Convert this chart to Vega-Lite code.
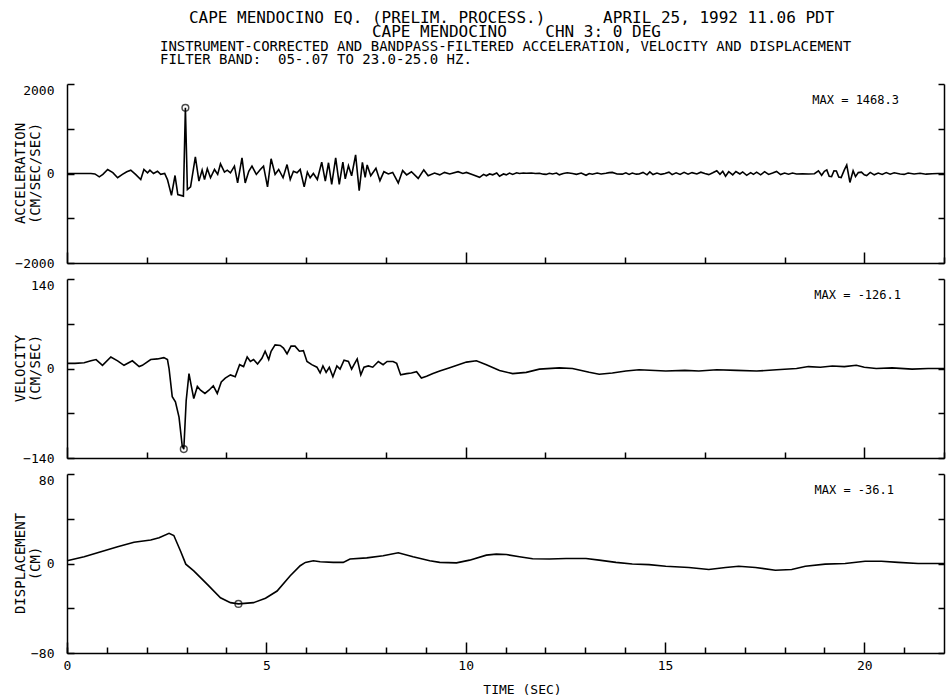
{
  "$schema": "https://vega.github.io/schema/vega-lite/v6.json",
  "padding": {"left": 13, "top": 10, "right": 1, "bottom": 2},
  "bounds": "flush",
  "spacing": 16,
  "title": {
    "text": ["\u200b\u00a0\u00a0\u00a0CAPE MENDOCINO EQ. (PRELIM. PROCESS.)\u00a0\u00a0\u00a0\u00a0\u00a0\u00a0APRIL 25, 1992 11.06 PDT", "\u200b\u00a0\u00a0\u00a0\u00a0\u00a0\u00a0\u00a0\u00a0\u00a0\u00a0\u00a0\u00a0\u00a0\u00a0\u00a0\u00a0\u00a0\u00a0\u00a0\u00a0\u00a0\u00a0CAPE MENDOCINO\u00a0\u00a0\u00a0\u00a0CHN 3: 0 DEG"],
    "subtitle": ["INSTRUMENT-CORRECTED AND BANDPASS-FILTERED ACCELERATION, VELOCITY AND DISPLACEMENT", "FILTER BAND:\u00a0\u00a005-.07 TO 23.0-25.0 HZ."],
    "anchor": "start",
    "dx": 147,
    "font": "DejaVu Sans Mono",
    "fontSize": 16,
    "fontWeight": "normal",
    "color": "black",
    "lineHeight": 14,
    "subtitleFont": "DejaVu Sans Mono",
    "subtitleFontSize": 14,
    "subtitleColor": "black",
    "subtitleLineHeight": 13,
    "subtitlePadding": 0,
    "offset": 16
  },
  "config": {
    "view": {"stroke": null},
    "font": "DejaVu Sans Mono",
    "axis": {
      "grid": false,
      "domainColor": "black",
      "domainWidth": 1.5,
      "tickColor": "black",
      "tickWidth": 1.5,
      "labelColor": "black",
      "labelFont": "DejaVu Sans Mono",
      "labelFontSize": 13,
      "labelFlush": false,
      "labelOverlap": false,
      "titleFont": "DejaVu Sans Mono",
      "titleFontSize": 14,
      "titleFontWeight": "normal",
      "titleColor": "black"
    },
    "title": {"font": "DejaVu Sans Mono", "fontSize": 12, "fontWeight": "normal", "color": "black"}
  },
  "datasets": {
    "acc": [
      {"t":0,"a":0},{"t":0.6,"a":0},{"t":0.7,"a":-10},{"t":0.81,"a":-75},{"t":0.9,"a":-20},{"t":1.02,"a":90},{"t":1.15,"a":20},{"t":1.27,"a":-95},{"t":1.39,"a":-20},{"t":1.5,"a":40},{"t":1.6,"a":75},{"t":1.72,"a":-20},{"t":1.85,"a":-135},{"t":1.93,"a":90},{"t":2.02,"a":15},{"t":2.08,"a":75},{"t":2.17,"a":0},{"t":2.27,"a":50},{"t":2.35,"a":-20},{"t":2.45,"a":0},{"t":2.52,"a":-135},{"t":2.62,"a":-490},{"t":2.71,"a":-45},{"t":2.78,"a":-470},{"t":2.92,"a":-505},{"t":2.97,"a":1468},{"t":3.02,"a":-360},{"t":3.1,"a":-300},{"t":3.22,"a":370},{"t":3.31,"a":-170},{"t":3.39,"a":75},{"t":3.45,"a":-135},{"t":3.52,"a":105},{"t":3.6,"a":-95},{"t":3.7,"a":90},{"t":3.78,"a":-20},{"t":3.85,"a":215},{"t":3.95,"a":30},{"t":4.02,"a":75},{"t":4.1,"a":15},{"t":4.2,"a":165},{"t":4.28,"a":-210},{"t":4.39,"a":350},{"t":4.47,"a":-210},{"t":4.56,"a":50},{"t":4.64,"a":165},{"t":4.75,"a":-20},{"t":4.85,"a":90},{"t":4.93,"a":165},{"t":5.03,"a":-300},{"t":5.12,"a":330},{"t":5.22,"a":-20},{"t":5.31,"a":90},{"t":5.42,"a":-95},{"t":5.52,"a":200},{"t":5.6,"a":-135},{"t":5.68,"a":50},{"t":5.77,"a":15},{"t":5.85,"a":90},{"t":5.95,"a":-300},{"t":6.03,"a":30},{"t":6.1,"a":-95},{"t":6.18,"a":0},{"t":6.28,"a":-135},{"t":6.39,"a":255},{"t":6.48,"a":-170},{"t":6.56,"a":240},{"t":6.64,"a":-245},{"t":6.74,"a":350},{"t":6.83,"a":-245},{"t":6.92,"a":255},{"t":6.98,"a":-120},{"t":7.06,"a":175},{"t":7.14,"a":-50},{"t":7.24,"a":415},{"t":7.33,"a":-385},{"t":7.41,"a":250},{"t":7.48,"a":-85},{"t":7.53,"a":190},{"t":7.62,"a":-50},{"t":7.75,"a":115},{"t":7.85,"a":-160},{"t":7.95,"a":40},{"t":8.06,"a":-10},{"t":8.17,"a":25},{"t":8.31,"a":-210},{"t":8.42,"a":65},{"t":8.52,"a":-30},{"t":8.64,"a":40},{"t":8.81,"a":-110},{"t":8.95,"a":80},{"t":9.06,"a":-50},{"t":9.22,"a":10},{"t":9.35,"a":-30},{"t":9.47,"a":25},{"t":9.6,"a":-10},{"t":9.81,"a":40},{"t":9.93,"a":0},{"t":10.02,"a":25},{"t":10.18,"a":-30},{"t":10.35,"a":-85},{"t":10.45,"a":-20},{"t":10.52,"a":-50},{"t":10.6,"a":-10},{"t":10.68,"a":-30},{"t":10.78,"a":10},{"t":10.85,"a":-60},{"t":10.95,"a":-10},{"t":11.02,"a":-30},{"t":11.1,"a":10},{"t":11.18,"a":-20},{"t":11.28,"a":15},{"t":11.35,"a":0},{"t":11.45,"a":10},{"t":11.52,"a":5},{"t":11.65,"a":10},{"t":11.75,"a":0},{"t":11.85,"a":5},{"t":11.95,"a":-15},{"t":12.02,"a":-20},{"t":12.1,"a":5},{"t":12.18,"a":-10},{"t":12.28,"a":10},{"t":12.35,"a":-30},{"t":12.45,"a":0},{"t":12.55,"a":15},{"t":12.68,"a":0},{"t":12.78,"a":-20},{"t":12.9,"a":10},{"t":13.02,"a":-40},{"t":13.1,"a":0},{"t":13.18,"a":-15},{"t":13.3,"a":10},{"t":13.4,"a":-10},{"t":13.52,"a":5},{"t":13.6,"a":20},{"t":13.68,"a":25},{"t":13.8,"a":-10},{"t":13.93,"a":-15},{"t":14.02,"a":15},{"t":14.1,"a":-20},{"t":14.18,"a":10},{"t":14.28,"a":-15},{"t":14.35,"a":-10},{"t":14.45,"a":25},{"t":14.55,"a":-30},{"t":14.62,"a":35},{"t":14.7,"a":-25},{"t":14.8,"a":10},{"t":14.9,"a":-20},{"t":15.0,"a":0},{"t":15.1,"a":30},{"t":15.18,"a":-25},{"t":15.28,"a":15},{"t":15.38,"a":-20},{"t":15.48,"a":25},{"t":15.58,"a":-15},{"t":15.68,"a":20},{"t":15.8,"a":-10},{"t":15.9,"a":30},{"t":16.0,"a":0},{"t":16.1,"a":-25},{"t":16.2,"a":15},{"t":16.3,"a":60},{"t":16.38,"a":-20},{"t":16.45,"a":50},{"t":16.52,"a":-60},{"t":16.6,"a":40},{"t":16.7,"a":-30},{"t":16.78,"a":45},{"t":16.88,"a":-10},{"t":16.95,"a":35},{"t":17.05,"a":-40},{"t":17.15,"a":20},{"t":17.22,"a":-20},{"t":17.3,"a":30},{"t":17.4,"a":-30},{"t":17.5,"a":40},{"t":17.6,"a":-20},{"t":17.7,"a":10},{"t":17.8,"a":45},{"t":17.9,"a":-25},{"t":18.0,"a":10},{"t":18.1,"a":-15},{"t":18.2,"a":10},{"t":18.3,"a":-10},{"t":18.45,"a":-5},{"t":18.6,"a":-10},{"t":18.75,"a":-5},{"t":18.85,"a":60},{"t":18.93,"a":-40},{"t":19.0,"a":50},{"t":19.06,"a":80},{"t":19.12,"a":-60},{"t":19.18,"a":-70},{"t":19.24,"a":60},{"t":19.3,"a":55},{"t":19.36,"a":-80},{"t":19.42,"a":-90},{"t":19.5,"a":80},{"t":19.56,"a":190},{"t":19.64,"a":-200},{"t":19.72,"a":60},{"t":19.78,"a":-70},{"t":19.85,"a":20},{"t":19.93,"a":30},{"t":20.0,"a":-30},{"t":20.06,"a":-45},{"t":20.15,"a":25},{"t":20.25,"a":-30},{"t":20.35,"a":10},{"t":20.45,"a":-20},{"t":20.55,"a":20},{"t":20.65,"a":-15},{"t":20.75,"a":15},{"t":20.9,"a":-10},{"t":21.0,"a":-20},{"t":21.1,"a":10},{"t":21.25,"a":-10},{"t":21.4,"a":5},{"t":21.55,"a":-15},{"t":21.7,"a":-5},{"t":21.85,"a":0},{"t":22,"a":0}
    ],
    "vel": [
      {"t":0,"v":8},{"t":0.2,"v":8},{"t":0.43,"v":9},{"t":0.6,"v":12},{"t":0.73,"v":14},{"t":0.89,"v":5},{"t":1.1,"v":18},{"t":1.27,"v":12},{"t":1.43,"v":5},{"t":1.64,"v":12},{"t":1.81,"v":3},{"t":1.89,"v":5},{"t":2.1,"v":14},{"t":2.27,"v":15},{"t":2.43,"v":17},{"t":2.52,"v":14},{"t":2.56,"v":0},{"t":2.64,"v":-44},{"t":2.72,"v":-52},{"t":2.81,"v":-76},{"t":2.89,"v":-121},{"t":2.93,"v":-126.1},{"t":2.99,"v":-50},{"t":3.06,"v":-8},{"t":3.12,"v":-28},{"t":3.18,"v":-47},{"t":3.27,"v":-28},{"t":3.35,"v":-34},{"t":3.46,"v":-39},{"t":3.56,"v":-34},{"t":3.67,"v":-27},{"t":3.77,"v":-39},{"t":3.87,"v":-21},{"t":3.97,"v":-15},{"t":4.1,"v":-10},{"t":4.22,"v":-13},{"t":4.33,"v":6},{"t":4.43,"v":3},{"t":4.52,"v":18},{"t":4.6,"v":11},{"t":4.68,"v":14},{"t":4.78,"v":7},{"t":4.89,"v":16},{"t":4.97,"v":27},{"t":5.06,"v":14},{"t":5.12,"v":27},{"t":5.22,"v":37},{"t":5.35,"v":36},{"t":5.43,"v":32},{"t":5.52,"v":23},{"t":5.62,"v":35},{"t":5.72,"v":35},{"t":5.83,"v":27},{"t":5.93,"v":28},{"t":6.02,"v":11},{"t":6.14,"v":6},{"t":6.27,"v":2},{"t":6.35,"v":-7},{"t":6.42,"v":4},{"t":6.5,"v":-6},{"t":6.58,"v":2},{"t":6.67,"v":-13},{"t":6.77,"v":4},{"t":6.85,"v":-1},{"t":6.95,"v":13},{"t":7.06,"v":11},{"t":7.14,"v":-1},{"t":7.2,"v":6},{"t":7.28,"v":15},{"t":7.37,"v":-10},{"t":7.45,"v":2},{"t":7.56,"v":4},{"t":7.67,"v":2},{"t":7.81,"v":11},{"t":7.93,"v":6},{"t":8.03,"v":11},{"t":8.18,"v":11},{"t":8.27,"v":8},{"t":8.37,"v":-10},{"t":8.52,"v":-8},{"t":8.64,"v":-7},{"t":8.77,"v":-5},{"t":8.89,"v":-15},{"t":9.02,"v":-12},{"t":9.18,"v":-8},{"t":9.35,"v":-4},{"t":9.6,"v":1},{"t":10.02,"v":10},{"t":10.27,"v":12},{"t":10.52,"v":6},{"t":10.85,"v":-3},{"t":11.18,"v":-8},{"t":11.52,"v":-6},{"t":11.85,"v":-1},{"t":12.35,"v":1},{"t":12.68,"v":0},{"t":13.1,"v":-6},{"t":13.35,"v":-9},{"t":13.68,"v":-7},{"t":14.02,"v":-4},{"t":14.35,"v":-2},{"t":15.02,"v":-4},{"t":15.5,"v":-3},{"t":15.85,"v":-4},{"t":16.3,"v":-2},{"t":16.8,"v":-3},{"t":17.3,"v":-4},{"t":17.8,"v":-2},{"t":18.3,"v":0},{"t":18.6,"v":3},{"t":18.9,"v":2},{"t":19.2,"v":4},{"t":19.5,"v":3},{"t":19.8,"v":5},{"t":20.0,"v":2},{"t":20.3,"v":0},{"t":20.7,"v":1},{"t":21.2,"v":-1},{"t":21.6,"v":0},{"t":22,"v":0}
    ],
    "dis": [
      {"t":0,"d":2.4},{"t":0.43,"d":6},{"t":0.85,"d":10.5},{"t":1.27,"d":15},{"t":1.68,"d":19},{"t":2.1,"d":21},{"t":2.31,"d":23},{"t":2.56,"d":27},{"t":2.68,"d":25},{"t":2.85,"d":11},{"t":2.98,"d":-0.6},{"t":3.18,"d":-6.6},{"t":3.52,"d":-18.6},{"t":3.85,"d":-30.6},{"t":4.1,"d":-35},{"t":4.3,"d":-36.1},{"t":4.68,"d":-35},{"t":4.98,"d":-31},{"t":5.27,"d":-24.6},{"t":5.6,"d":-11},{"t":5.85,"d":-2},{"t":5.98,"d":1},{"t":6.18,"d":2.4},{"t":6.35,"d":1.5},{"t":6.68,"d":1},{"t":6.93,"d":1},{"t":7.1,"d":4},{"t":7.52,"d":5},{"t":7.93,"d":7},{"t":8.31,"d":9.6},{"t":8.68,"d":6},{"t":9.1,"d":2.4},{"t":9.35,"d":1},{"t":9.77,"d":0.6},{"t":10.1,"d":3},{"t":10.52,"d":7.5},{"t":10.77,"d":8.4},{"t":11.02,"d":8},{"t":11.35,"d":6},{"t":11.68,"d":4.2},{"t":12.1,"d":4},{"t":12.52,"d":4.5},{"t":13.02,"d":4.5},{"t":13.35,"d":3},{"t":13.77,"d":1},{"t":14.18,"d":-0.5},{"t":14.6,"d":-1},{"t":15.02,"d":-2.4},{"t":15.6,"d":-3.6},{"t":16.1,"d":-5.4},{"t":16.52,"d":-3.6},{"t":16.85,"d":-2.4},{"t":17.27,"d":-3.6},{"t":17.77,"d":-6},{"t":18.18,"d":-5.4},{"t":18.52,"d":-2.4},{"t":19.02,"d":-0.6},{"t":19.52,"d":0},{"t":20.02,"d":2},{"t":20.43,"d":2},{"t":20.85,"d":1},{"t":21.35,"d":0},{"t":22,"d":0}
    ],
    "accMax": [{"t":2.97,"a":1468.3}],
    "velMax": [{"t":2.93,"v":-126.1}],
    "disMax": [{"t":4.3,"d":-36.1}]
  },
  "vconcat": [
    {
      "width": 877,
      "height": 179,
      "title": {"text": "MAX = 1468.3", "anchor": "end", "frame": "group", "orient": "top", "baseline": "middle", "offset": -14, "dy": 15, "dx": -45},
      "resolve": {"axis": {"y": "independent"}},
      "layer": [
        {
          "data": {"name": "acc"},
          "mark": {"type": "line", "color": "black", "strokeWidth": 1.6},
          "encoding": {
            "x": {"field": "t", "type": "quantitative", "scale": {"domain": [0, 22], "nice": false, "zero": false},
              "axis": {"values": [0,1,2,3,4,5,6,7,8,9,10,11,12,13,14,15,16,17,18,19,20,21,22], "labels": false, "title": null,
                "tickSize": {"condition": {"test": "datum.value % 5 === 0", "value": -11}, "value": -6}}},
            "y": {"field": "a", "type": "quantitative", "scale": {"domain": [-2000, 2000], "nice": false},
              "axis": {"orient": "left", "values": [-2000,-1000,0,1000,2000], "tickSize": -7, "labelPadding": 20, "format": "d", "labelOverlap": false,
                "labelExpr": "abs(datum.value) == 1000 ? '' : datum.label",
                "labelBaseline": {"condition": {"test": "datum.value == 2000", "value": "top"}, "value": "middle"},
                "title": ["ACCELERATION", "(CM/SEC/SEC)"], "titleAngle": 270, "titleAlign": "center", "titleBaseline": "middle",
                "titleX": -47, "titleY": 89, "titleLineHeight": 15, "minExtent": 50, "maxExtent": 50}}
          }
        },
        {
          "data": {"name": "accMax"},
          "mark": {"type": "point", "shape": "circle", "filled": false, "color": "black", "size": 45, "strokeWidth": 1.5},
          "encoding": {
            "x": {"field": "t", "type": "quantitative"},
            "y": {"field": "a", "type": "quantitative",
              "axis": {"orient": "right", "values": [-2000,-1000,0,1000,2000], "tickSize": -6, "labels": false, "title": null, "minExtent": 0}}
          }
        }
      ]
    },
    {
      "width": 877,
      "height": 179,
      "title": {"text": "MAX = -126.1", "anchor": "end", "frame": "group", "orient": "top", "baseline": "middle", "offset": -14, "dy": 15, "dx": -43},
      "resolve": {"axis": {"y": "independent"}},
      "layer": [
        {
          "mark": {"type": "rule", "color": "black", "strokeWidth": 1.5},
          "encoding": {"y": {"datum": 0, "type": "quantitative", "scale": {"domain": [-140, 140], "nice": false}, "axis": null}}
        },
        {
          "data": {"name": "vel"},
          "mark": {"type": "line", "color": "black", "strokeWidth": 1.6},
          "encoding": {
            "x": {"field": "t", "type": "quantitative", "scale": {"domain": [0, 22], "nice": false, "zero": false},
              "axis": {"values": [0,1,2,3,4,5,6,7,8,9,10,11,12,13,14,15,16,17,18,19,20,21,22], "labels": false, "title": null,
                "tickSize": {"condition": {"test": "datum.value % 5 === 0", "value": -11}, "value": -6}}},
            "y": {"field": "v", "type": "quantitative", "scale": {"domain": [-140, 140], "nice": false},
              "axis": {"orient": "left", "values": [-140,-70,0,70,140], "tickSize": -7, "labelPadding": 20, "format": "d", "labelOverlap": false,
                "labelExpr": "abs(datum.value) == 70 ? '' : datum.label",
                "labelBaseline": {"condition": {"test": "datum.value == 140", "value": "top"}, "value": "middle"},
                "title": ["VELOCITY", "(CM/SEC)"], "titleAngle": 270, "titleAlign": "center", "titleBaseline": "middle",
                "titleX": -47, "titleY": 89, "titleLineHeight": 15, "minExtent": 50, "maxExtent": 50}}
          }
        },
        {
          "data": {"name": "velMax"},
          "mark": {"type": "point", "shape": "circle", "filled": false, "color": "black", "size": 45, "strokeWidth": 1.5},
          "encoding": {
            "x": {"field": "t", "type": "quantitative"},
            "y": {"field": "v", "type": "quantitative",
              "axis": {"orient": "right", "values": [-140,-70,0,70,140], "tickSize": -6, "labels": false, "title": null, "minExtent": 0}}
          }
        }
      ]
    },
    {
      "width": 877,
      "height": 179,
      "title": {"text": "MAX = -36.1", "anchor": "end", "frame": "group", "orient": "top", "baseline": "middle", "offset": -14, "dy": 15, "dx": -50},
      "resolve": {"axis": {"y": "independent", "x": "independent"}},
      "layer": [
        {
          "mark": {"type": "rule", "color": "black", "strokeWidth": 1.5},
          "encoding": {"y": {"datum": 0, "type": "quantitative", "scale": {"domain": [-80, 80], "nice": false}, "axis": null}}
        },
        {
          "data": {"name": "dis"},
          "mark": {"type": "line", "color": "black", "strokeWidth": 1.6},
          "encoding": {
            "x": {"field": "t", "type": "quantitative", "scale": {"domain": [0, 22], "nice": false, "zero": false},
              "axis": {"orient": "bottom", "values": [0,5,10,15,20], "format": "d", "labelOverlap": false, "labelFlush": false,
                "tickSize": -11, "labelPadding": 17,
                "title": "TIME (SEC)", "titleX": 455, "titlePadding": 11, "titleFontSize": 13}},
            "y": {"field": "d", "type": "quantitative", "scale": {"domain": [-80, 80], "nice": false},
              "axis": {"orient": "left", "values": [-80,-40,0,40,80], "tickSize": -7, "labelPadding": 20, "format": "d", "labelOverlap": false,
                "labelExpr": "abs(datum.value) == 40 ? '' : datum.label",
                "labelBaseline": {"condition": {"test": "datum.value == 80", "value": "top"}, "value": "middle"},
                "title": ["DISPLACEMENT", "(CM)"], "titleAngle": 270, "titleAlign": "center", "titleBaseline": "middle",
                "titleX": -47, "titleY": 89, "titleLineHeight": 15, "minExtent": 50, "maxExtent": 50}}
          }
        },
        {
          "data": {"name": "disMax"},
          "mark": {"type": "point", "shape": "circle", "filled": false, "color": "black", "size": 45, "strokeWidth": 1.5},
          "encoding": {
            "x": {"field": "t", "type": "quantitative",
              "axis": {"orient": "bottom", "values": [0,1,2,3,4,6,7,8,9,11,12,13,14,16,17,18,19,21], "tickSize": -6, "labels": false, "domain": false, "title": null}},
            "y": {"field": "d", "type": "quantitative",
              "axis": {"orient": "right", "values": [-80,-40,0,40,80], "tickSize": -6, "labels": false, "title": null, "minExtent": 0}}
          }
        }
      ]
    }
  ]
}
